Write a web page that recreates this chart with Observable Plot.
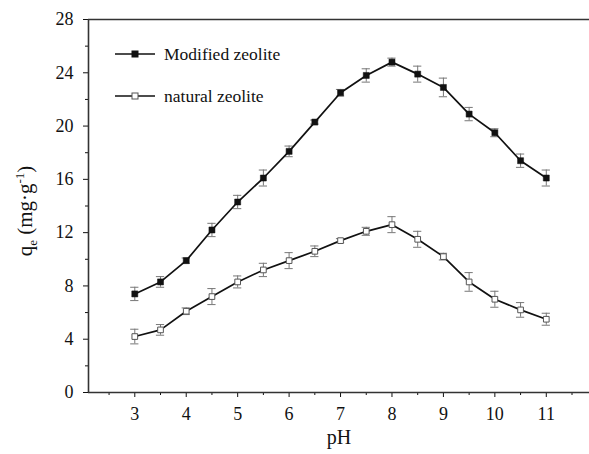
<!DOCTYPE html>
<html>
<head>
<meta charset="utf-8">
<script src="https://cdn.jsdelivr.net/npm/d3@7"></script>
<script src="https://cdn.jsdelivr.net/npm/@observablehq/plot@0.6"></script>
<style>
  html, body { margin: 0; padding: 0; background: #fff; }
  #chart svg { display: block; }
  #chart svg text, #chart svg tspan {
    font-family: "Liberation Serif", "Times New Roman", Times, "DejaVu Serif", serif !important;
  }
</style>
</head>
<body>
<div id="chart"></div>
<script>
// Adsorption capacity versus pH for the two zeolites
const pH = [3, 3.5, 4, 4.5, 5, 5.5, 6, 6.5, 7, 7.5, 8, 8.5, 9, 9.5, 10, 10.5, 11];
const modified = [7.4, 8.3, 9.9, 12.2, 14.3, 16.1, 18.1, 20.3, 22.5, 23.8, 24.8, 23.9, 22.9, 20.9, 19.5, 17.4, 16.1];
const modifiedErr = [0.5, 0.4, 0.2, 0.5, 0.5, 0.6, 0.4, 0.15, 0.25, 0.5, 0.3, 0.6, 0.7, 0.5, 0.3, 0.5, 0.6];
const natural = [4.2, 4.7, 6.1, 7.2, 8.3, 9.2, 9.9, 10.6, 11.4, 12.1, 12.6, 11.5, 10.2, 8.3, 7.0, 6.2, 5.5];
const naturalErr = [0.55, 0.4, 0.25, 0.6, 0.45, 0.5, 0.6, 0.4, 0.15, 0.3, 0.6, 0.6, 0.25, 0.7, 0.6, 0.55, 0.45];

const seriesNames = ["Modified zeolite", "natural zeolite"];
const xTicks = [3, 4, 5, 6, 7, 8, 9, 10, 11];
const xMinorTicks = [2.5, 3.5, 4.5, 5.5, 6.5, 7.5, 8.5, 9.5, 10.5, 11.5];
const yTicks = [0, 4, 8, 12, 16, 20, 24, 28];
const yMinorTicks = [2, 6, 10, 14, 18, 22, 26];
const xDomain = [2.1, 11.84];
const yDomain = [0, 28];

const modifiedRows = pH.map((x, i) => ({pH: x, q: modified[i], err: modifiedErr[i]}));
const naturalRows = pH.map((x, i) => ({pH: x, q: natural[i], err: naturalErr[i]}));

const serif = "Liberation Serif, Times New Roman, serif";
const ink = "#111";
const barColor = "#777";
const capHalf = 0.08;

function errorBars(rows) {
  return [
    Plot.ruleX(rows, {x: "pH", y1: d => d.q - d.err, y2: d => d.q + d.err, stroke: barColor, strokeWidth: 1}),
    Plot.ruleY(rows, {y: d => d.q + d.err, x1: d => d.pH - capHalf, x2: d => d.pH + capHalf, stroke: barColor, strokeWidth: 1}),
    Plot.ruleY(rows, {y: d => d.q - d.err, x1: d => d.pH - capHalf, x2: d => d.pH + capHalf, stroke: barColor, strokeWidth: 1})
  ];
}

const chart = Plot.plot({
  width: 589,
  height: 454,
  marginLeft: 88,
  marginRight: 0,
  marginTop: 19,
  marginBottom: 62,
  style: {fontFamily: serif, fontSize: "18px", color: ink, background: "#fff"},
  x: {domain: xDomain},
  y: {domain: yDomain},
  marks: [
    Plot.axisX({ticks: xTicks, tickSize: 5, tickPadding: 10, label: null, fontSize: 18}),
    Plot.axisX({ticks: xMinorTicks, tickSize: 3, tickFormat: () => "", label: null}),
    Plot.axisY({ticks: yTicks, tickSize: 5, tickPadding: 10, label: null, fontSize: 18}),
    Plot.axisY({ticks: yMinorTicks, tickSize: 3, tickFormat: () => "", label: null}),
    Plot.ruleY(yDomain, {stroke: "#333", strokeWidth: 1.6}),
    Plot.ruleX([xDomain[0]], {stroke: "#333", strokeWidth: 1.6}),
    ...errorBars(modifiedRows),
    ...errorBars(naturalRows),
    Plot.line(modifiedRows, {x: "pH", y: "q", stroke: ink, strokeWidth: 1.7}),
    Plot.line(naturalRows, {x: "pH", y: "q", stroke: ink, strokeWidth: 1.7}),
    Plot.dot(modifiedRows, {x: "pH", y: "q", symbol: "square", r: 3.4, fill: ink, stroke: ink, strokeWidth: 0.5}),
    Plot.dot(naturalRows, {x: "pH", y: "q", symbol: "square", r: 3.2, fill: "#fff", stroke: "#555", strokeWidth: 1}),
    Plot.text(["pH"], {frameAnchor: "bottom", dy: 51, fontSize: 20, fill: ink})
  ]
});

const svg = d3.select(chart);

// y-axis title with subscript and superscript
const yLabel = svg.append("text")
  .attr("transform", "translate(32,211) rotate(-90)")
  .attr("text-anchor", "middle")
  .attr("font-size", 21)
  .attr("fill", ink);
yLabel.append("tspan").text("q");
yLabel.append("tspan").attr("font-size", 13).attr("dy", 5).text("e");
yLabel.append("tspan").attr("dy", -5).text(" (mg·g");
yLabel.append("tspan").attr("font-size", 13).attr("dy", -8).text("-1");
yLabel.append("tspan").attr("dy", 8).text(")");

// legend inside the plot area
const legend = svg.append("g")
  .attr("font-size", 17.5)
  .attr("text-anchor", "start")
  .attr("fill", ink);
const legendRows = [
  {name: seriesNames[0], y: 54, fill: ink, stroke: ink},
  {name: seriesNames[1], y: 96, fill: "#fff", stroke: "#555"}
];
legendRows.forEach(r => {
  legend.append("line").attr("x1", 115).attr("x2", 155).attr("y1", r.y).attr("y2", r.y)
    .attr("stroke", ink).attr("stroke-width", 1.6);
  legend.append("rect").attr("x", 132).attr("y", r.y - 3).attr("width", 6).attr("height", 6)
    .attr("fill", r.fill).attr("stroke", r.stroke).attr("stroke-width", 1);
  legend.append("text").attr("x", 164).attr("y", r.y).attr("dy", "0.32em").text(r.name);
});

document.getElementById("chart").appendChild(chart);
</script>
</body>
</html>
